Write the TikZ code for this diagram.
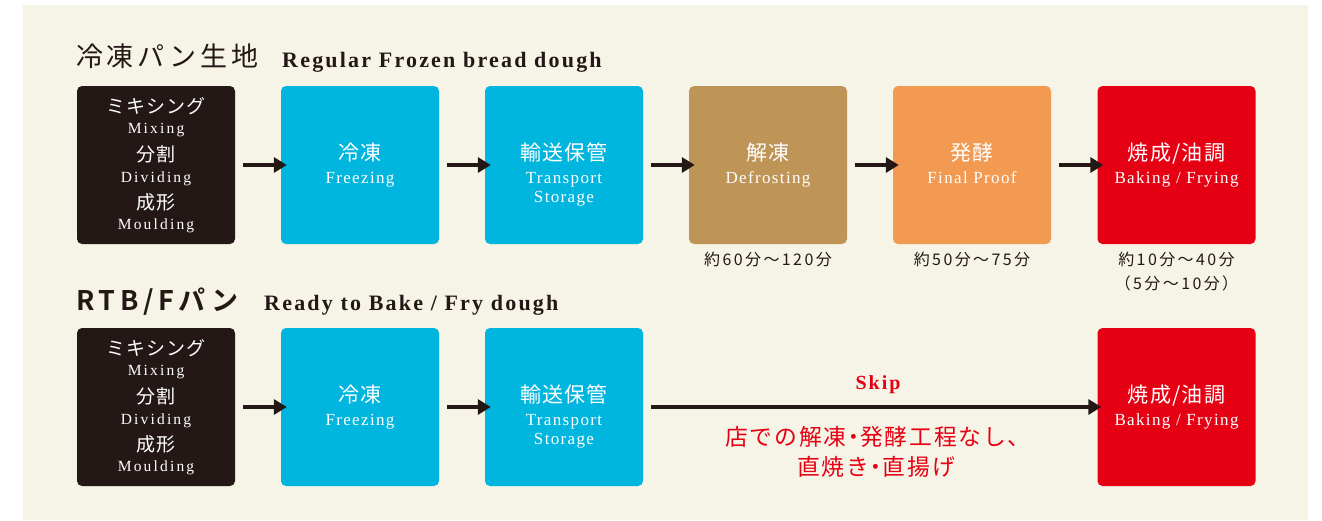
\documentclass[tikz,border=0pt]{standalone}
\usepackage{fontspec}
\setmainfont{Liberation Serif}
\newfontfamily\jp[LetterSpace=6]{Noto Sans CJK JP}
\newfontfamily\jpred[LetterSpace=8]{Noto Sans CJK JP}
\newfontfamily\jptime[LetterSpace=15]{Noto Sans CJK JP}
\newfontfamily\jptitle[LetterSpace=14]{Noto Sans CJK JP}
\newfontfamily\jpbold[LetterSpace=17]{Noto Sans CJK JP Bold}
\newfontfamily\en[LetterSpace=8]{Liberation Serif}
\newfontfamily\ens[LetterSpace=14]{Liberation Serif}
\newfontfamily\enb[LetterSpace=10]{Liberation Serif Bold}
\usetikzlibrary{arrows.meta}
\definecolor{bg}{HTML}{F6F4E7}
\definecolor{ink}{HTML}{231815}
\definecolor{cy}{HTML}{00B5DE}
\definecolor{br}{HTML}{BF9457}
\definecolor{og}{HTML}{F29A51}
\definecolor{rd}{HTML}{E60013}
\newcommand{\jdot}{\hspace{-0.2em}・\hspace{-0.2em}}
\tikzset{
  stepbox/.style={minimum width=158pt,minimum height=158pt,inner sep=0pt,rounded corners=5pt,draw=none},
  jl/.style={text=white,anchor=base,inner sep=0pt,font=\jp\fontsize{21}{21}\selectfont},
  jls/.style={text=white,anchor=base,inner sep=0pt,font=\jp\fontsize{19}{19}\selectfont},
  el/.style={text=white,anchor=base,inner sep=0pt,font=\en\fontsize{17}{17}\selectfont},
  els/.style={text=white,anchor=base,inner sep=0pt,font=\ens\fontsize{15.5}{15.5}\selectfont},
  tl/.style={text=ink,anchor=base,inner sep=0pt,font=\jptime\fontsize{16}{16}\selectfont},
  rl/.style={text=rd,anchor=base,inner sep=0pt,font=\jpred\fontsize{22.8}{22.8}\selectfont},
  flow/.style={draw=ink,line width=4pt,-{Triangle[length=13pt,width=15pt]}},
}
\begin{document}
\begin{tikzpicture}[x=1pt,y=-1pt]
\useasboundingbox (0,0) rectangle (1322,520);
\fill[white] (0,0) rectangle (1322,520);
\fill[bg] (23,5) rectangle (1308,520);
% titles
\node[anchor=base west,inner sep=0pt,text=ink,font=\jptitle\fontsize{27}{27}\selectfont] (t1) at (76,66) {冷凍パン生地};
\node[anchor=base west,inner sep=0pt,text=ink,font=\enb\fontsize{22}{22}\selectfont] (t1e) at (282,67) {Regular Frozen bread dough};
\node[anchor=base west,inner sep=0pt,text=ink,font=\jpbold\fontsize{27}{27}\selectfont] (t2) at (76,310) {RTB/Fパン};
\node[anchor=base west,inner sep=0pt,text=ink,font=\enb\fontsize{22}{22}\selectfont] (t2e) at (264,310) {Ready to Bake / Fry dough};
% row 1 boxes
\node[stepbox,fill=ink] (a1) at (156,165) {};
\node[stepbox,fill=cy] (a2) at (360,165) {};
\node[stepbox,fill=cy] (a3) at (564,165) {};
\node[stepbox,fill=br] (a4) at (768,165) {};
\node[stepbox,fill=og] (a5) at (972,165) {};
\node[stepbox,fill=rd] (a6) at (1176.5,165) {};
% row 2 boxes
\node[stepbox,fill=ink] (b1) at (156,407) {};
\node[stepbox,fill=cy] (b2) at (360,407) {};
\node[stepbox,fill=cy] (b3) at (564,407) {};
\node[stepbox,fill=rd] (b6) at (1176.5,407) {};
% texts row1 box1
\node[jls] (a1j1) at (156,113) {ミキシング};
\node[els] (a1e1) at (156,133) {Mixing};
\node[jls] (a1j2) at (156,161) {分割};
\node[els] (a1e2) at (156,182) {Dividing};
\node[jls] (a1j3) at (156,209) {成形};
\node[els] (a1e3) at (156,229) {Moulding};
% row2 box1
\node[jls] (b1j1) at (156,355) {ミキシング};
\node[els] (b1e1) at (156,375) {Mixing};
\node[jls] (b1j2) at (156,403) {分割};
\node[els] (b1e2) at (156,424) {Dividing};
\node[jls] (b1j3) at (156,451) {成形};
\node[els] (b1e3) at (156,471) {Moulding};
% other boxes row1
\node[jl] (a2j) at (360,160) {冷凍};
\node[el] (a2e) at (360,183) {Freezing};
\node[jl] (a3j) at (564,160) {輸送保管};
\node[el] (a3e) at (564,183) {Transport};
\node[el] (a3f) at (564,202) {Storage};
\node[jl] (a4j) at (768,160) {解凍};
\node[el] (a4e) at (768,183) {Defrosting};
\node[jl] (a5j) at (972,160) {発酵};
\node[el] (a5e) at (972,183) {Final Proof};
\node[jl] (a6j) at (1176.5,160) {焼成/油調};
\node[el] (a6e) at (1176.5,183) {Baking / Frying};
% row2
\node[jl] (b2j) at (360,402) {冷凍};
\node[el] (b2e) at (360,425) {Freezing};
\node[jl] (b3j) at (564,402) {輸送保管};
\node[el] (b3e) at (564,425) {Transport};
\node[el] (b3f) at (564,444) {Storage};
\node[jl] (b6j) at (1176.5,402) {焼成/油調};
\node[el] (b6e) at (1176.5,425) {Baking / Frying};
% time labels
\node[tl] (ta4) at (768,265) {約60分〜120分};
\node[tl] (ta5) at (972,265) {約50分〜75分};
\node[tl] (ta6) at (1176.5,265) {約10分〜40分};
\node[tl] (ta6b) at (1176.5,289) {（5分〜10分）};
% arrows row1
\draw[flow] ([xshift=8pt]a1.east) -- ([xshift=6pt]a2.west);
\draw[flow] ([xshift=8pt]a2.east) -- ([xshift=6pt]a3.west);
\draw[flow] ([xshift=8pt]a3.east) -- ([xshift=6pt]a4.west);
\draw[flow] ([xshift=8pt]a4.east) -- ([xshift=6pt]a5.west);
\draw[flow] ([xshift=8pt]a5.east) -- ([xshift=6pt]a6.west);
% arrows row2
\draw[flow] ([xshift=8pt]b1.east) -- ([xshift=6pt]b2.west);
\draw[flow] ([xshift=8pt]b2.east) -- ([xshift=6pt]b3.west);
\draw[flow] ([xshift=8pt]b3.east) -- ([xshift=4pt]b6.west);
% skip labels
\node[anchor=base,inner sep=0pt,text=rd,font=\enb\fontsize{20}{20}\selectfont] (skip) at (878,389) {Skip};
\node[rl] (sk1) at (878,445) {店での解凍\jdot 発酵工程なし、};
\node[rl] (sk2) at (876,475) {直焼き\jdot 直揚げ};
\end{tikzpicture}
\end{document}
